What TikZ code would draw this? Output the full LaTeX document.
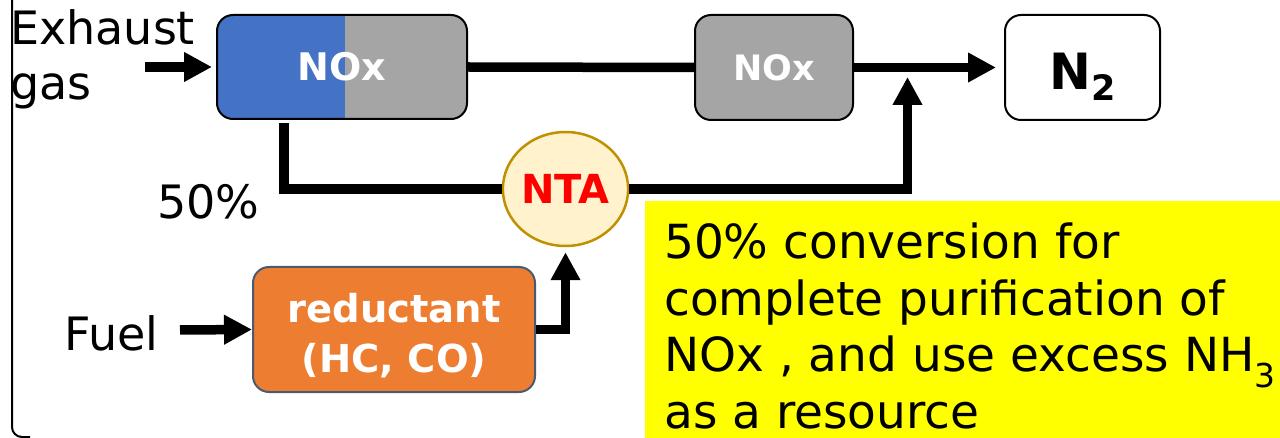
\documentclass[tikz,border=0pt]{standalone}
\usepackage{fontspec}
\setmainfont{DejaVu Sans}
\usetikzlibrary{arrows.meta,shapes.geometric}
\definecolor{noxblue}{HTML}{4472C4}
\definecolor{noxgray}{HTML}{A5A5A5}
\definecolor{redorange}{HTML}{ED7D31}
\definecolor{redborder}{HTML}{4A5A70}
\definecolor{ntafill}{HTML}{FFF2CC}
\definecolor{ntaborder}{HTML}{BF9000}
\definecolor{notebg}{HTML}{FFFF00}
\begin{document}
\begin{tikzpicture}[x=1pt,y=-1pt,
  box/.style={draw=black,line width=2pt,rounded corners=16pt,inner sep=0pt},
  conn/.style={line width=9.5pt},
  arr/.style={conn,-{Triangle[length=28pt,width=28pt]}},
  lbl/.style={inner sep=0pt,font=\fontsize{46}{55}\selectfont},
]
\useasboundingbox (0,0) rectangle (1280,438);
% frame
\draw[line width=2pt,rounded corners=10pt] (12,-5) -- (12,437) -- (30,437);
% note background
\fill[notebg] (645,201) rectangle (1285,445);
% nodes
\node[box,fill=noxgray,minimum width=250pt,minimum height=104pt,
  path picture={\fill[noxblue,sharp corners] (path picture bounding box.north west) rectangle ([xshift=128pt]path picture bounding box.south west);},
  text=white,font=\bfseries\fontsize{38}{38}\selectfont] (nox1) at (342,67) {NOx};
\node[box,fill=noxgray,minimum width=158pt,minimum height=105pt,
  text=white,font=\bfseries\fontsize{35}{35}\selectfont] (nox2) at (774,67.5) {NOx};
\node[box,fill=white,minimum width=155pt,minimum height=105pt,
  text height=45pt,text depth=0pt,
  font=\bfseries\fontsize{50}{50}\selectfont] (n2) at (1082.5,67.5) {N\raisebox{-11pt}{\fontsize{35}{35}\selectfont 2}};
\node[box,draw=redborder,fill=redorange,minimum width=282pt,minimum height=125pt,
  text=white,align=center,font=\bfseries\fontsize{38.5}{50}\selectfont] (red) at (394,329.5) {\rule{0pt}{41pt}reductant\\(HC, CO)};
\node[ellipse,draw=ntaborder,line width=2.5pt,fill=ntafill,minimum width=125pt,minimum height=114pt,inner sep=0pt,
  text=red,font=\bfseries\fontsize{40}{40}\selectfont] (nta) at (565.5,189) {NTA};
% labels
\node[lbl,anchor=base west,align=left] (exh) at (10,100) {Exhaust\\gas};
\node[lbl,anchor=base west] (pct) at (157,219) {50\%};
\node[lbl,anchor=base west] (fuel) at (64,350) {Fuel};
\node[inner sep=0pt,anchor=base west,align=left,font=\fontsize{47}{56.5}\selectfont] (note) at (664,428)
  {50\% conversion for\\complete purification of\\NOx , and use excess NH\textsubscript{3}\\as a resource};
% connectors
\coordinate (exs) at (145,67);
\draw[arr,shorten >=4pt] (exs) -- (nox1.west);
\draw[conn] (nox1.east) -- (nox2.west);
\draw[arr,shorten >=8pt] (nox2.east) -- (n2.west);
\coordinate (brs) at (284,123);
\draw[conn] (brs) |- (nta.west);
\coordinate (up) at (907.5,77);
\draw[arr] (nta.east) -| (up);
\coordinate (fs) at (180,330);
\draw[arr] (fs) -- (red.west);
\draw[arr,shorten >=5pt] (red.east) -| (nta.south);
\end{tikzpicture}
\end{document}
